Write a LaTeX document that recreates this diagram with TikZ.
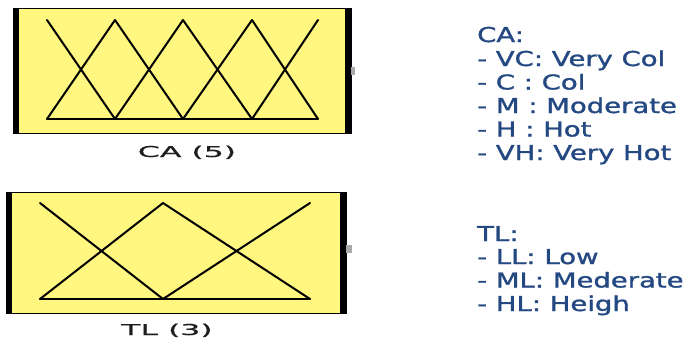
\documentclass[tikz,border=0pt]{standalone}
\usepackage{fontspec}
\usepackage{graphicx}
\setmainfont{DejaVu Sans}
\newfontfamily\legfont{DejaVu Sans}[FakeBold=1.2]
\newfontfamily\lblfont{DejaVu Sans}[FakeBold=0.6]
\definecolor{boxfill}{RGB}{255,247,128}
\definecolor{legend}{RGB}{36,72,130}
\definecolor{lblgray}{RGB}{30,30,30}
\definecolor{portgray}{RGB}{170,170,170}
\tikzset{
  mfbox/.style={fill=boxfill, draw=black, line width=1pt},
  mfbar/.style={fill=black},
  mfline/.style={line width=2pt, line join=round, line cap=round},
  port/.style={fill=portgray},
  legtext/.style={anchor=base west, inner sep=0pt, text=legend, font=\legfont\fontsize{20.5}{23}\selectfont},
  boxlabel/.style={anchor=base, inner sep=0pt, text=lblgray, font=\lblfont\fontsize{15}{17}\selectfont}
}
\newcommand{\wideleg}[1]{\scalebox{1.34}[1]{#1}}
\newcommand{\widelbl}[1]{\scalebox{2.1}[1]{#1}}
\begin{document}
\begin{tikzpicture}[x=1pt,y=-1pt]
\useasboundingbox (0,0) rectangle (687,338);
% ---- CA box ----
\draw[mfbox] (13,8.5) rectangle (351,133);
\fill[mfbar] (13,8) rectangle (18.5,133.5);
\fill[mfbar] (345,8) rectangle (351,133.5);
\fill[port] (351,67) rectangle (355,75);
\coordinate (c0t) at (47,20);  \coordinate (c0b) at (47,119);
\coordinate (c1t) at (115,20); \coordinate (c1b) at (115,119);
\coordinate (c2t) at (183,20); \coordinate (c2b) at (183,119);
\coordinate (c3t) at (252,20); \coordinate (c3b) at (252,119);
\coordinate (c4t) at (318,20); \coordinate (c4b) at (318,119);
\draw[mfline] (c0b) -- (c4b);
\draw[mfline] (c0t) -- (c1b);
\draw[mfline] (c0b) -- (c1t) -- (c2b);
\draw[mfline] (c1b) -- (c2t) -- (c3b);
\draw[mfline] (c2b) -- (c3t) -- (c4b);
\draw[mfline] (c3b) -- (c4t);
\node[boxlabel] (calbl) at (187,157) {\widelbl{CA (5)}};
% ---- TL box ----
\draw[mfbox] (6,192.5) rectangle (346,313);
\fill[mfbar] (6,192) rectangle (12,313.5);
\fill[mfbar] (340,192) rectangle (346,313.5);
\fill[port] (346,245) rectangle (352,253);
\coordinate (t0t) at (40,203);  \coordinate (t0b) at (40,299);
\coordinate (t1t) at (163,203); \coordinate (t1b) at (163,299);
\coordinate (t2t) at (310,203); \coordinate (t2b) at (310,299);
\draw[mfline] (t0b) -- (t2b);
\draw[mfline] (t0t) -- (t1b);
\draw[mfline] (t0b) -- (t1t) -- (t2b);
\draw[mfline] (t1b) -- (t2t);
\node[boxlabel] (tllbl) at (167,335) {\widelbl{TL (3)}};
% ---- legends ----
\node[legtext] (ca0) at (477,42) {\wideleg{CA:}};
\node[legtext] (ca1) at (477,66) {\wideleg{- VC: Very Col}};
\node[legtext] (ca2) at (477,89.5) {\wideleg{- C : Col}};
\node[legtext] (ca3) at (477,113) {\wideleg{- M : Moderate}};
\node[legtext] (ca4) at (477,136.5) {\wideleg{- H : Hot}};
\node[legtext] (ca5) at (477,160) {\wideleg{- VH: Very Hot}};
\node[legtext] (tl0) at (477,241) {\wideleg{TL:}};
\node[legtext] (tl1) at (477,264) {\wideleg{- LL: Low}};
\node[legtext] (tl2) at (477,287.5) {\wideleg{- ML: Mederate}};
\node[legtext] (tl3) at (477,311) {\wideleg{- HL: Heigh}};
\end{tikzpicture}
\end{document}
